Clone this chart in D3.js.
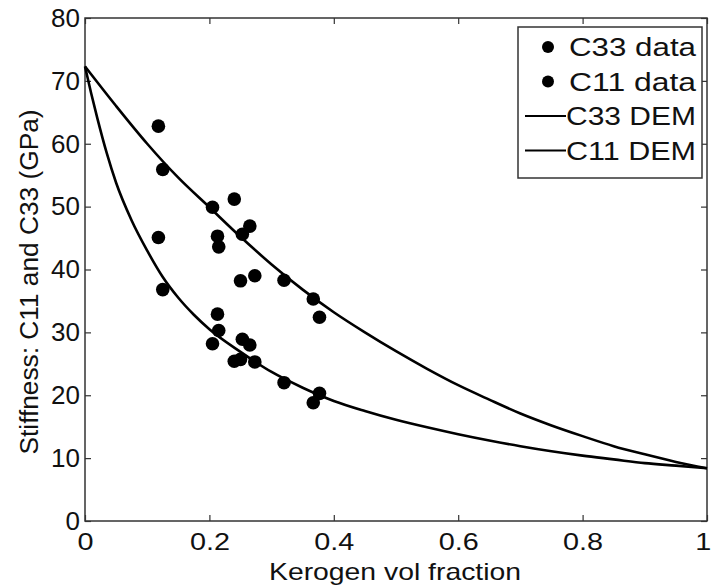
<!DOCTYPE html>
<html>
<head>
<meta charset="utf-8">
<script src="https://cdn.jsdelivr.net/npm/d3@7"></script>
<style>
body { margin: 0; background: #fff; }
text { font-family: Arial, "Liberation Sans", sans-serif; fill: #111; }
</style>
</head>
<body>
<svg id="chart" width="712" height="588"></svg>
<script>
var margin = {top: 18, left: 85, right: 5, bottom: 67};
var width = 712 - margin.left - margin.right;
var height = 588 - margin.top - margin.bottom;

// kerogen volume fraction of each sample
var kerogen = [0.118, 0.125, 0.205, 0.213, 0.215, 0.240, 0.250, 0.253, 0.265, 0.273, 0.320, 0.367, 0.377];
// measured stiffness (GPa)
var c11Data = [62.8, 55.9, 49.9, 45.3, 43.6, 51.2, 38.2, 45.6, 46.9, 39.0, 38.3, 35.3, 32.4];
var c33Data = [45.1, 36.8, 28.2, 32.9, 30.3, 25.4, 25.7, 28.9, 28.0, 25.3, 22.0, 18.8, 20.3];

// DEM model curves
var demC11X = [0, 0.05, 0.1, 0.15, 0.2, 0.25, 0.3, 0.35, 0.4, 0.45, 0.5, 0.55, 0.6, 0.65, 0.7, 0.75, 0.8, 0.85, 0.9, 0.95, 1];
var demC11Y = [72.3, 66.0, 60.0, 54.6, 49.9, 45.2, 40.8, 36.8, 33.2, 30.0, 27.0, 24.2, 21.6, 19.3, 17.1, 15.2, 13.5, 11.9, 10.6, 9.4, 8.4];
var demC33X = [0, 0.01, 0.02, 0.035, 0.05, 0.075, 0.1, 0.125, 0.15, 0.175, 0.2, 0.25, 0.3, 0.35, 0.4, 0.45, 0.5, 0.55, 0.6, 0.65, 0.7, 0.75, 0.8, 0.85, 0.9, 0.95, 1];
var demC33Y = [72.3, 68.0, 64.0, 58.5, 53.8, 47.8, 43.0, 38.8, 35.5, 32.8, 30.5, 26.9, 23.7, 21.2, 19.1, 17.5, 16.1, 14.9, 13.8, 12.8, 11.9, 11.1, 10.4, 9.8, 9.2, 8.8, 8.4];

var xTicks = [0, 0.2, 0.4, 0.6, 0.8, 1];
var yTicks = [0, 10, 20, 30, 40, 50, 60, 70, 80];
var legendLabels = ["C33 data", "C11 data", "C33 DEM", "C11 DEM"];

var svg = d3.select("#chart");
var g = svg.append("g")
	.attr("transform", "translate(" + margin.left + "," + margin.top + ")");

var x = d3.scaleLinear().domain([0, 1]).range([0, width]);
var y = d3.scaleLinear().domain([0, 80]).range([height, 0]);

// frame
g.append("rect")
	.attr("width", width).attr("height", height)
	.attr("fill", "none").attr("stroke", "#333").attr("stroke-width", 1.5);

// axes with inward ticks, mirrored on top/right
function styleAxis(sel) {
	sel.select(".domain").remove();
	sel.selectAll(".tick line").attr("stroke", "#333").attr("stroke-width", 1.2);
}
g.append("g").attr("transform", "translate(0," + height + ")")
	.call(d3.axisBottom(x).tickValues(xTicks).tickSizeInner(-6).tickFormat(d3.format("")))
	.call(styleAxis)
	.selectAll("text")
	.attr("font-size", 24).attr("y", 12).attr("dy", "0.71em")
	.attr("transform", "scale(1.2,1)")
	.attr("dx", d => d == 1 ? "-0.15em" : 0);
g.append("g")
	.call(d3.axisTop(x).tickValues(xTicks).tickSizeInner(-6).tickFormat(""))
	.call(styleAxis);
g.append("g")
	.call(d3.axisLeft(y).tickValues(yTicks).tickSizeInner(-6).tickPadding(5))
	.call(styleAxis)
	.selectAll("text").attr("font-size", 26);
g.append("g").attr("transform", "translate(" + width + ",0)")
	.call(d3.axisRight(y).tickValues(yTicks).tickSizeInner(-6).tickFormat(""))
	.call(styleAxis);

// axis labels
svg.append("text")
	.attr("x", 395).attr("y", 580)
	.attr("text-anchor", "middle").attr("font-size", 24)
	.attr("textLength", 252).attr("lengthAdjust", "spacingAndGlyphs")
	.text("Kerogen vol fraction");
svg.append("text")
	.attr("transform", "translate(38,282) rotate(-90)")
	.attr("text-anchor", "middle").attr("font-size", 25)
	.attr("textLength", 345).attr("lengthAdjust", "spacingAndGlyphs")
	.text("Stiffness: C11 and C33 (GPa)");

// DEM curves
var line = d3.line()
	.x(d => x(d[0])).y(d => y(d[1]))
	.curve(d3.curveMonotoneX);
[[demC11X, demC11Y], [demC33X, demC33Y]].forEach(function(c) {
	g.append("path")
		.datum(d3.zip(c[0], c[1]))
		.attr("fill", "none").attr("stroke", "#000").attr("stroke-width", 2.6)
		.attr("d", line);
});

// data points
[c11Data, c33Data].forEach(function(vals) {
	g.append("g").selectAll("circle")
		.data(d3.zip(kerogen, vals))
		.join("circle")
		.attr("cx", d => x(d[0]))
		.attr("cy", d => y(d[1]))
		.attr("r", 6.8)
		.attr("fill", "#000");
});

// legend
var lg = svg.append("g").attr("transform", "translate(518,27)");
lg.append("rect")
	.attr("width", 184).attr("height", 151)
	.attr("fill", "#fff").attr("stroke", "#333").attr("stroke-width", 1.5);
legendLabels.forEach(function(lab, i) {
	var cy = 20 + i * 34.5;
	if (i < 2) {
		lg.append("circle").attr("cx", 30).attr("cy", cy).attr("r", 6).attr("fill", "#000");
	} else {
		lg.append("line").attr("x1", 7).attr("x2", 48).attr("y1", cy).attr("y2", cy)
			.attr("stroke", "#000").attr("stroke-width", 1.8);
	}
	lg.append("text")
		.attr("x", i < 2 ? 51 : 48).attr("y", cy)
		.attr("dy", "0.36em")
		.attr("font-size", 26)
		.attr("textLength", i < 2 ? 127 : 130).attr("lengthAdjust", "spacingAndGlyphs")
		.text(lab);
});
</script>
</body>
</html>
